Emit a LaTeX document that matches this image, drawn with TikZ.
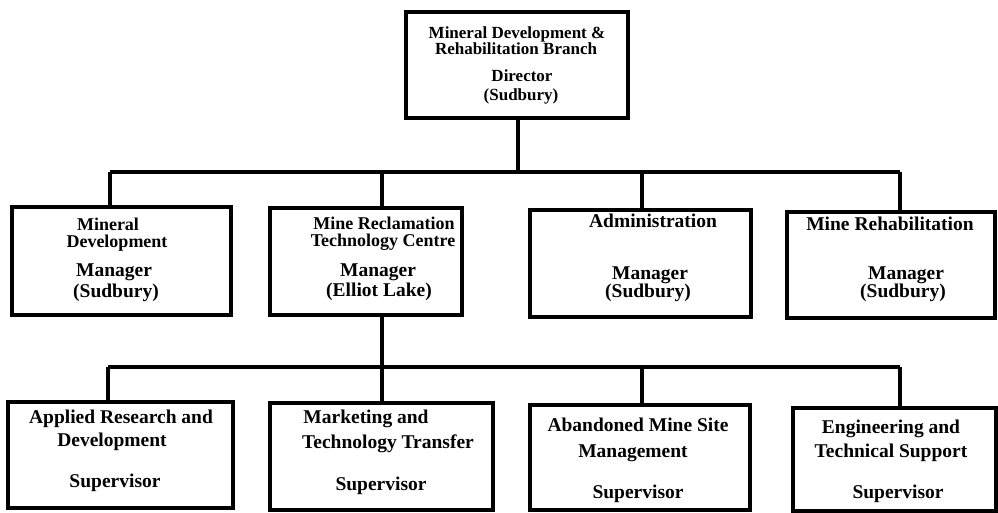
\documentclass[tikz,border=0pt]{standalone}
\usepackage{fontspec}
\setmainfont{Liberation Serif}
\begin{document}
\begin{tikzpicture}[x=1pt,y=-1pt,
  box/.style={draw=black,line width=4pt,rectangle,inner sep=0pt,fill=none},
  link/.style={draw=black,line width=4pt},
  txt/.style={anchor=base,inner sep=0pt,font=\bfseries\fontsize{19.5}{19.5}\selectfont},
  ttl/.style={anchor=base,inner sep=0pt,font=\bfseries\fontsize{18}{18}\selectfont},
  tttl/.style={anchor=base,inner sep=0pt,font=\bfseries\fontsize{17}{17}\selectfont}]
\useasboundingbox[fill=white] (0,0) rectangle (998,512);
% boxes
\node[box,minimum width=222pt,minimum height=106pt] (top) at (517,65) {};
\node[box,minimum width=219pt,minimum height=108pt] (r2a) at (121.5,261) {};
\node[box,minimum width=192pt,minimum height=107pt] (r2b) at (366,261.5) {};
\node[box,minimum width=221pt,minimum height=107pt] (r2c) at (640.5,263.5) {};
\node[box,minimum width=208pt,minimum height=106pt] (r2d) at (891,265) {};
\node[box,minimum width=225pt,minimum height=106pt] (r3a) at (120.5,455) {};
\node[box,minimum width=223pt,minimum height=107pt] (r3b) at (381.5,456.5) {};
\node[box,minimum width=220pt,minimum height=105pt] (r3c) at (640,457.5) {};
\node[box,minimum width=203pt,minimum height=103pt] (r3d) at (894.5,459.5) {};
% bus coordinates
\coordinate (busA1) at (110,172);
\coordinate (busA2) at (382,172);
\coordinate (busA3) at (642,172);
\coordinate (busA4) at (900,172);
\coordinate (busAt) at (518,172);
\coordinate (busB1) at (108,367);
\coordinate (busB2) at (382,367);
\coordinate (busB3) at (642,367);
\coordinate (busB4) at (900,367);
% connectors
\draw[link] (top.south -| busAt) -- (busAt);
\draw[link] (busA1) -- (busA4);
\draw[link] (busA1) -- (busA1 |- r2a.north);
\draw[link] (busA2) -- (busA2 |- r2b.north);
\draw[link] (busA3) -- (busA3 |- r2c.north);
\draw[link] (busA4) -- (busA4 |- r2d.north);
\draw[link] (r2b.south -| busB2) -- (busB2);
\draw[link] (busB1) -- (busB4);
\draw[link] (busB1) -- (busB1 |- r3a.north);
\draw[link] (busB2) -- (busB2 |- r3b.north);
\draw[link] (busB3) -- (busB3 |- r3c.north);
\draw[link] (busB4) -- (busB4 |- r3d.north);
% texts: top
\node[tttl] (t01) at (517,38) {Mineral Development \&};
\node[tttl] (t02) at (516,54) {Rehabilitation Branch};
\node[tttl] (t03) at (522,81) {Director};
\node[tttl] (t04) at (521,100) {(Sudbury)};
% row 2
\node[ttl] (t05) at (108,230) {Mineral};
\node[ttl] (t06) at (117,247) {Development};
\node[txt] (t07) at (114,276) {Manager};
\node[txt] (t08) at (116,297) {(Sudbury)};
\node[ttl] (t09) at (384,229) {Mine Reclamation};
\node[ttl] (t10) at (383,246) {Technology Centre};
\node[txt] (t11) at (378,276) {Manager};
\node[txt] (t12) at (379,296) {(Elliot Lake)};
\node[txt] (t13) at (653,227) {Administration};
\node[txt] (t14) at (650,279) {Manager};
\node[txt] (t15) at (648,297) {(Sudbury)};
\node[txt] (t16) at (890,230) {Mine Rehabilitation};
\node[txt] (t17) at (906,279) {Manager};
\node[txt] (t18) at (903,297) {(Sudbury)};
% row 3
\node[txt] (t19) at (121,423) {Applied Research and};
\node[txt] (t20) at (112,446) {Development};
\node[txt] (t21) at (115,487) {Supervisor};
\node[txt] (t22) at (366,423) {Marketing and};
\node[txt] (t23) at (388,448) {Technology Transfer};
\node[txt] (t24) at (381,490) {Supervisor};
\node[txt] (t25) at (638,431) {Abandoned Mine Site};
\node[txt] (t26) at (633,457) {Management};
\node[txt] (t27) at (638,498) {Supervisor};
\node[txt] (t28) at (891,433) {Engineering and};
\node[txt] (t29) at (891,457) {Technical Support};
\node[txt] (t30) at (898,498) {Supervisor};
\end{tikzpicture}
\end{document}
